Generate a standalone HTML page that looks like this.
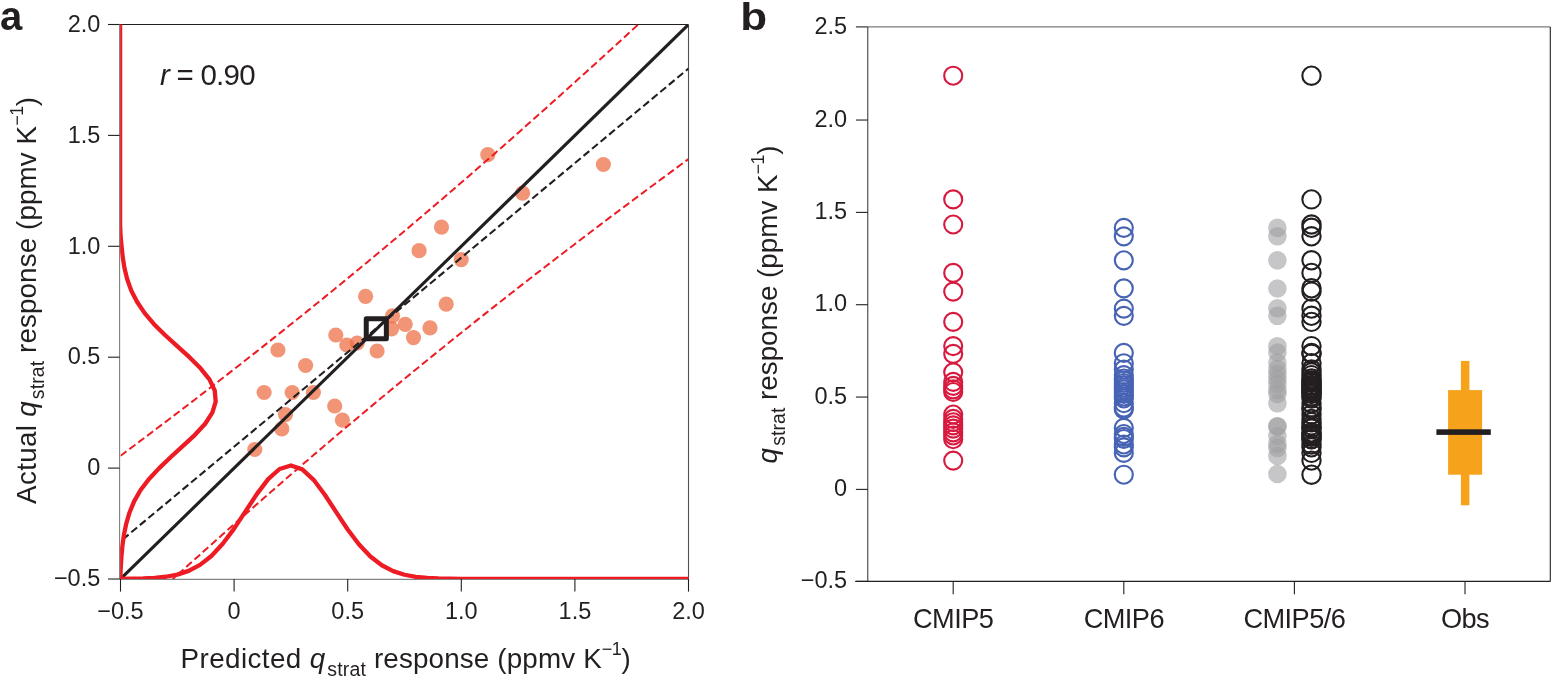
<!DOCTYPE html>
<html><head><meta charset="utf-8"><title>Figure</title>
<style>html,body{margin:0;padding:0;background:#fff;}body{width:1551px;height:677px;overflow:hidden;}</style>
</head><body>
<svg width="1551" height="677" viewBox="0 0 1551 677" style="display:block">
<rect x="0" y="0" width="1551" height="677" fill="#ffffff"/>
<defs><clipPath id="ca"><rect x="120.5" y="24.5" width="568.0" height="554.5"/></clipPath><clipPath id="ck"><rect x="120.1" y="24.5" width="568.4" height="554.4"/></clipPath></defs>
<g fill="none">
<line x1="119.6" y1="24.45" x2="688.5" y2="24.45" stroke="#231f20" stroke-width="1.1"/>
<line x1="688.5" y1="24.45" x2="688.5" y2="579.3" stroke="#505050" stroke-width="1.1"/>
<line x1="119.6" y1="24.45" x2="119.6" y2="579.3" stroke="#7d7d7d" stroke-width="1.1"/>
<line x1="119.6" y1="579.3" x2="688.5" y2="579.3" stroke="#858585" stroke-width="1.2"/>
</g>
<g stroke="#231f20" stroke-width="1.1">
<line x1="120.50" y1="579.0" x2="120.50" y2="591.6"/>
<line x1="108" y1="579.00" x2="119.6" y2="579.00"/>
<line x1="234.10" y1="579.0" x2="234.10" y2="591.6"/>
<line x1="108" y1="468.10" x2="119.6" y2="468.10"/>
<line x1="347.70" y1="579.0" x2="347.70" y2="591.6"/>
<line x1="108" y1="357.20" x2="119.6" y2="357.20"/>
<line x1="461.30" y1="579.0" x2="461.30" y2="591.6"/>
<line x1="108" y1="246.30" x2="119.6" y2="246.30"/>
<line x1="574.90" y1="579.0" x2="574.90" y2="591.6"/>
<line x1="108" y1="135.40" x2="119.6" y2="135.40"/>
<line x1="688.50" y1="579.0" x2="688.50" y2="591.6"/>
<line x1="108" y1="24.50" x2="119.6" y2="24.50"/>
</g>
<g font-family="'Liberation Sans', Arial, Helvetica, sans-serif" font-size="23.5" fill="#231f20">
<text x="120.50" y="618.6" text-anchor="middle">−0.5</text>
<text x="100.3" y="586.20" text-anchor="end">−0.5</text>
<text x="234.10" y="618.6" text-anchor="middle">0</text>
<text x="100.3" y="475.30" text-anchor="end">0</text>
<text x="347.70" y="618.6" text-anchor="middle">0.5</text>
<text x="100.3" y="364.40" text-anchor="end">0.5</text>
<text x="461.30" y="618.6" text-anchor="middle">1.0</text>
<text x="100.3" y="253.50" text-anchor="end">1.0</text>
<text x="574.90" y="618.6" text-anchor="middle">1.5</text>
<text x="100.3" y="142.60" text-anchor="end">1.5</text>
<text x="688.50" y="618.6" text-anchor="middle">2.0</text>
<text x="100.3" y="31.70" text-anchor="end">2.0</text>
</g>
<g fill="rgba(238,112,72,0.75)">
<circle cx="487.8" cy="154.7" r="7.6"/>
<circle cx="603.4" cy="164.5" r="7.6"/>
<circle cx="522.6" cy="193.1" r="7.6"/>
<circle cx="441.5" cy="227.1" r="7.6"/>
<circle cx="419.1" cy="250.7" r="7.6"/>
<circle cx="461.2" cy="259.6" r="7.6"/>
<circle cx="365.6" cy="296.3" r="7.6"/>
<circle cx="446.2" cy="304.2" r="7.6"/>
<circle cx="392.5" cy="315.8" r="7.6"/>
<circle cx="405.2" cy="324.3" r="7.6"/>
<circle cx="391.5" cy="328.8" r="7.6"/>
<circle cx="430" cy="327.9" r="7.6"/>
<circle cx="335.8" cy="335" r="7.6"/>
<circle cx="346.8" cy="345" r="7.6"/>
<circle cx="357.2" cy="343" r="7.6"/>
<circle cx="413.5" cy="337.6" r="7.6"/>
<circle cx="377.1" cy="351" r="7.6"/>
<circle cx="277.9" cy="350" r="7.6"/>
<circle cx="305.6" cy="365.5" r="7.6"/>
<circle cx="264.1" cy="392.5" r="7.6"/>
<circle cx="292.2" cy="392.5" r="7.6"/>
<circle cx="313.4" cy="392.5" r="7.6"/>
<circle cx="334.7" cy="406" r="7.6"/>
<circle cx="285.5" cy="414.6" r="7.6"/>
<circle cx="342.4" cy="420.1" r="7.6"/>
<circle cx="281.8" cy="428.9" r="7.6"/>
<circle cx="254.8" cy="449.5" r="7.6"/>
</g>
<g clip-path="url(#ca)" fill="none">
<polyline points="120.50,455.82 123.34,453.70 126.18,451.57 129.02,449.45 131.86,447.32 134.70,445.19 137.54,443.06 140.38,440.92 143.22,438.78 146.06,436.64 148.90,434.50 151.74,432.36 154.58,430.21 157.42,428.07 160.26,425.92 163.10,423.76 165.94,421.61 168.78,419.45 171.62,417.29 174.46,415.13 177.30,412.97 180.14,410.80 182.98,408.63 185.82,406.46 188.66,404.29 191.50,402.11 194.34,399.94 197.18,397.75 200.02,395.57 202.86,393.39 205.70,391.20 208.54,389.01 211.38,386.81 214.22,384.62 217.06,382.42 219.90,380.22 222.74,378.02 225.58,375.81 228.42,373.60 231.26,371.39 234.10,369.18 236.94,366.96 239.78,364.74 242.62,362.52 245.46,360.30 248.30,358.07 251.14,355.84 253.98,353.61 256.82,351.37 259.66,349.13 262.50,346.89 265.34,344.65 268.18,342.40 271.02,340.15 273.86,337.90 276.70,335.64 279.54,333.38 282.38,331.12 285.22,328.86 288.06,326.59 290.90,324.32 293.74,322.05 296.58,319.77 299.42,317.49 302.26,315.21 305.10,312.93 307.94,310.64 310.78,308.35 313.62,306.06 316.46,303.76 319.30,301.46 322.14,299.16 324.98,296.85 327.82,294.54 330.66,292.23 333.50,289.92 336.34,287.60 339.18,285.28 342.02,282.95 344.86,280.63 347.70,278.30 350.54,275.96 353.38,273.63 356.22,271.29 359.06,268.94 361.90,266.60 364.74,264.25 367.58,261.90 370.42,259.54 373.26,257.18 376.10,254.82 378.94,252.46 381.78,250.09 384.62,247.72 387.46,245.35 390.30,242.97 393.14,240.59 395.98,238.21 398.82,235.82 401.66,233.43 404.50,231.04 407.34,228.64 410.18,226.24 413.02,223.84 415.86,221.44 418.70,219.03 421.54,216.62 424.38,214.21 427.22,211.79 430.06,209.37 432.90,206.95 435.74,204.52 438.58,202.09 441.42,199.66 444.26,197.22 447.10,194.79 449.94,192.34 452.78,189.90 455.62,187.45 458.46,185.00 461.30,182.55 464.14,180.09 466.98,177.64 469.82,175.17 472.66,172.71 475.50,170.24 478.34,167.77 481.18,165.30 484.02,162.82 486.86,160.34 489.70,157.86 492.54,155.38 495.38,152.89 498.22,150.40 501.06,147.91 503.90,145.41 506.74,142.91 509.58,140.41 512.42,137.91 515.26,135.40 518.10,132.89 520.94,130.38 523.78,127.86 526.62,125.34 529.46,122.82 532.30,120.30 535.14,117.78 537.98,115.25 540.82,112.72 543.66,110.18 546.50,107.65 549.34,105.11 552.18,102.57 555.02,100.03 557.86,97.48 560.70,94.93 563.54,92.38 566.38,89.83 569.22,87.28 572.06,84.72 574.90,82.16 577.74,79.60 580.58,77.03 583.42,74.46 586.26,71.89 589.10,69.32 591.94,66.75 594.78,64.17 597.62,61.59 600.46,59.01 603.30,56.43 606.14,53.85 608.98,51.26 611.82,48.67 614.66,46.08 617.50,43.48 620.34,40.89 623.18,38.29 626.02,35.69 628.86,33.09 631.70,30.49 634.54,27.88 637.38,25.27 640.22,22.66 643.06,20.05 645.90,17.44 648.74,14.82 651.58,12.20 654.42,9.59 657.26,6.96 660.10,4.34 662.94,1.72 665.78,-0.91 668.62,-3.54 671.46,-6.17 674.30,-8.80 677.14,-11.44 679.98,-14.07 682.82,-16.71 685.66,-19.35 688.50,-21.99" stroke="#ed1c24" stroke-width="2" stroke-dasharray="7.5 3.6"/>
<polyline points="120.50,626.77 123.34,624.16 126.18,621.56 129.02,618.96 131.86,616.36 134.70,613.76 137.54,611.17 140.38,608.57 143.22,605.98 146.06,603.39 148.90,600.81 151.74,598.22 154.58,595.64 157.42,593.06 160.26,590.48 163.10,587.91 165.94,585.34 168.78,582.77 171.62,580.20 174.46,577.63 177.30,575.07 180.14,572.51 182.98,569.95 185.82,567.39 188.66,564.84 191.50,562.28 194.34,559.73 197.18,557.19 200.02,554.64 202.86,552.10 205.70,549.56 208.54,547.02 211.38,544.49 214.22,541.96 217.06,539.43 219.90,536.90 222.74,534.37 225.58,531.85 228.42,529.33 231.26,526.82 234.10,524.30 236.94,521.79 239.78,519.28 242.62,516.78 245.46,514.27 248.30,511.77 251.14,509.28 253.98,506.78 256.82,504.29 259.66,501.80 262.50,499.31 265.34,496.83 268.18,494.35 271.02,491.87 273.86,489.40 276.70,486.92 279.54,484.45 282.38,481.99 285.22,479.52 288.06,477.06 290.90,474.61 293.74,472.15 296.58,469.70 299.42,467.25 302.26,464.80 305.10,462.36 307.94,459.92 310.78,457.48 313.62,455.05 316.46,452.62 319.30,450.19 322.14,447.77 324.98,445.34 327.82,442.93 330.66,440.51 333.50,438.10 336.34,435.69 339.18,433.28 342.02,430.88 344.86,428.48 347.70,426.08 350.54,423.68 353.38,421.29 356.22,418.91 359.06,416.52 361.90,414.14 364.74,411.76 367.58,409.38 370.42,407.01 373.26,404.64 376.10,402.28 378.94,399.91 381.78,397.55 384.62,395.19 387.46,392.84 390.30,390.49 393.14,388.14 395.98,385.80 398.82,383.46 401.66,381.12 404.50,378.78 407.34,376.45 410.18,374.12 413.02,371.79 415.86,369.47 418.70,367.15 421.54,364.84 424.38,362.52 427.22,360.21 430.06,357.90 432.90,355.60 435.74,353.30 438.58,351.00 441.42,348.70 444.26,346.41 447.10,344.12 449.94,341.83 452.78,339.55 455.62,337.27 458.46,334.99 461.30,332.72 464.14,330.45 466.98,328.18 469.82,325.91 472.66,323.65 475.50,321.39 478.34,319.13 481.18,316.88 484.02,314.62 486.86,312.38 489.70,310.13 492.54,307.89 495.38,305.65 498.22,303.41 501.06,301.18 503.90,298.94 506.74,296.71 509.58,294.49 512.42,292.26 515.26,290.04 518.10,287.83 520.94,285.61 523.78,283.40 526.62,281.19 529.46,278.98 532.30,276.77 535.14,274.57 537.98,272.37 540.82,270.18 543.66,267.98 546.50,265.79 549.34,263.60 552.18,261.41 555.02,259.23 557.86,257.05 560.70,254.87 563.54,252.69 566.38,250.51 569.22,248.34 572.06,246.17 574.90,244.00 577.74,241.84 580.58,239.68 583.42,237.51 586.26,235.36 589.10,233.20 591.94,231.05 594.78,228.90 597.62,226.75 600.46,224.60 603.30,222.45 606.14,220.31 608.98,218.17 611.82,216.03 614.66,213.90 617.50,211.76 620.34,209.63 623.18,207.50 626.02,205.37 628.86,203.25 631.70,201.12 634.54,199.00 637.38,196.88 640.22,194.76 643.06,192.65 645.90,190.53 648.74,188.42 651.58,186.31 654.42,184.20 657.26,182.10 660.10,179.99 662.94,177.89 665.78,175.79 668.62,173.69 671.46,171.59 674.30,169.49 677.14,167.40 679.98,165.31 682.82,163.22 685.66,161.13 688.50,159.04" stroke="#ed1c24" stroke-width="2" stroke-dasharray="7.5 3.6"/>
<line x1="120.50" y1="541.29" x2="688.50" y2="68.53" stroke="#231f20" stroke-width="2.1" stroke-dasharray="7.5 3.6" stroke-dashoffset="-3"/>
<line x1="120.50" y1="579.00" x2="688.50" y2="24.50" stroke="#231f20" stroke-width="3.1"/>
</g>
<g fill="none" stroke="#ed1c24" stroke-width="4.3" stroke-linejoin="round" clip-path="url(#ck)">
<polyline points="118.10,578.90 120.50,578.83 131.86,578.72 143.22,578.45 154.58,577.88 165.94,576.74 177.30,574.59 188.66,570.87 200.02,564.88 211.38,555.98 222.74,543.82 234.10,528.62 245.46,511.42 256.82,494.11 268.18,479.13 279.54,468.98 290.90,465.50 302.26,469.36 313.62,479.82 324.98,494.99 336.34,512.35 347.70,529.49 359.06,544.54 370.42,556.53 381.78,565.26 393.14,571.12 404.50,574.74 415.86,576.82 427.22,577.92 438.58,578.47 449.94,578.72 461.30,578.83 472.66,578.88 484.02,578.89 495.38,578.90 506.74,578.90 518.10,578.90 529.46,578.90 540.82,578.90 552.18,578.90 563.54,578.90 574.90,578.90 586.26,578.90 597.62,578.90 608.98,578.90 620.34,578.90 631.70,578.90 643.06,578.90 654.42,578.90 665.78,578.90 677.14,578.90 688.50,578.90 690.50,578.90"/>
<polyline points="120.10,582.00 120.20,579.00 120.74,567.91 121.41,556.82 122.42,545.73 123.97,534.64 126.27,523.55 129.54,512.46 134.14,501.37 140.44,490.28 148.83,479.19 159.23,468.10 170.82,457.01 183.01,445.92 194.97,434.83 205.18,423.74 212.33,412.65 215.69,401.56 214.73,390.47 209.43,379.38 200.55,368.29 189.43,357.20 177.20,346.11 164.96,335.02 153.78,323.93 144.47,312.84 137.03,301.75 131.35,290.66 127.29,279.57 124.56,268.48 122.77,257.39 121.54,246.30 120.52,235.21 120.10,224.12 120.10,213.03 120.10,201.94 120.10,190.85 120.10,179.76 120.10,168.67 120.10,157.58 120.10,146.49 120.10,135.40 120.10,124.31 120.10,113.22 120.10,102.13 120.10,91.04 120.10,79.95 120.10,68.86 120.10,57.77 120.10,46.68 120.10,35.59 120.10,24.50 120.10,21.50"/>
</g>
<rect x="366.25" y="318.75" width="20.1" height="20.1" fill="none" stroke="#231f20" stroke-width="5" stroke-linejoin="round"/>
<text x="160.0" y="85.4" font-family="'Liberation Sans', Arial, Helvetica, sans-serif" font-size="29.5" letter-spacing="-0.75" fill="#231f20"><tspan font-style="italic">r</tspan> = 0.90</text>
<text x="180.6" y="667.8" font-family="'Liberation Sans', Arial, Helvetica, sans-serif" font-size="27.8" fill="#231f20"><tspan letter-spacing="0.41">Predicted </tspan><tspan font-style="italic">q</tspan><tspan font-size="19.5" dx="2.0" dy="8" letter-spacing="0.15">strat</tspan><tspan dy="-8" letter-spacing="0.15"> response (ppmv K</tspan><tspan font-size="18" dy="-13" letter-spacing="-0.5">−1</tspan><tspan dy="13">)</tspan></text>
<text transform="translate(36.2,503.9) rotate(-90)" x="0" y="0" font-family="'Liberation Sans', Arial, Helvetica, sans-serif" font-size="27.8" fill="#231f20"><tspan letter-spacing="0.32">Actual </tspan><tspan font-style="italic">q</tspan><tspan font-size="19.5" dx="2.0" dy="8" letter-spacing="0.1">strat</tspan><tspan dy="-8" letter-spacing="0.1"> response (ppmv K</tspan><tspan font-size="18" dy="-13" letter-spacing="-0.5">−1</tspan><tspan dy="13">)</tspan></text>
<text x="0" y="29.5" font-family="'Liberation Sans', Arial, Helvetica, sans-serif" font-size="40" font-weight="bold" fill="#231f20">a</text>
<text transform="translate(740.2,29.6) scale(1.1,0.98)" x="0" y="0" font-family="'Liberation Sans', Arial, Helvetica, sans-serif" font-size="40" font-weight="bold" fill="#231f20">b</text>
<g fill="none">
<line x1="867.75" y1="26.9" x2="1550.3" y2="26.9" stroke="#7a7a7a" stroke-width="1.4"/>
<line x1="1550.3" y1="26.9" x2="1550.3" y2="581.4" stroke="#231f20" stroke-width="1.1"/>
<line x1="867.75" y1="26.9" x2="867.75" y2="581.4" stroke="#505050" stroke-width="1.2"/>
<line x1="855.2" y1="581.4" x2="1550.3" y2="581.4" stroke="#231f20" stroke-width="1.2"/>
</g>
<g stroke="#231f20" stroke-width="1.1">
<line x1="855.9" y1="26.90" x2="867.75" y2="26.90"/>
<line x1="855.9" y1="120.04" x2="867.75" y2="120.04"/>
<line x1="855.9" y1="212.38" x2="867.75" y2="212.38"/>
<line x1="855.9" y1="304.72" x2="867.75" y2="304.72"/>
<line x1="855.9" y1="397.06" x2="867.75" y2="397.06"/>
<line x1="855.9" y1="489.40" x2="867.75" y2="489.40"/>
<line x1="855.9" y1="581.40" x2="867.75" y2="581.40"/>
<line x1="953.2" y1="581.4" x2="953.2" y2="594.2"/>
<line x1="1123.8" y1="581.4" x2="1123.8" y2="594.2"/>
<line x1="1294.4" y1="581.4" x2="1294.4" y2="594.2"/>
<line x1="1465.0" y1="581.4" x2="1465.0" y2="594.2"/>
</g>
<g font-family="'Liberation Sans', Arial, Helvetica, sans-serif" font-size="23.5" fill="#231f20" text-anchor="end">
<text x="847.2" y="34.20">2.5</text>
<text x="847.2" y="126.54">2.0</text>
<text x="847.2" y="218.88">1.5</text>
<text x="847.2" y="311.22">1.0</text>
<text x="847.2" y="403.56">0.5</text>
<text x="847.2" y="495.90">0</text>
<text x="847.2" y="588.24">−0.5</text>
</g>
<g font-family="'Liberation Sans', Arial, Helvetica, sans-serif" font-size="27.2" letter-spacing="-0.55" fill="#231f20" text-anchor="middle">
<text x="953.2" y="628.2">CMIP5</text>
<text x="1123.8" y="628.2">CMIP6</text>
<text x="1294.4" y="628.2">CMIP5/6</text>
<text x="1465.0" y="628.2">Obs</text>
</g>
<text transform="translate(776.8,463.6) rotate(-90)" x="0" y="0" font-family="'Liberation Sans', Arial, Helvetica, sans-serif" font-size="27.8" fill="#231f20"><tspan font-style="italic">q</tspan><tspan font-size="19.5" dx="2.5" dy="8" letter-spacing="0.0">strat</tspan><tspan dy="-8" letter-spacing="0.0"> response (ppmv K</tspan><tspan font-size="18" dy="-13" letter-spacing="-0.5">−1</tspan><tspan dy="13">)</tspan></text>
<g fill="none" stroke-width="2.15">
<circle cx="953.2" cy="75.7" r="9.0" stroke="#d7193f"/>
<circle cx="953.2" cy="199.4" r="9.0" stroke="#d7193f"/>
<circle cx="953.2" cy="224.5" r="9.0" stroke="#d7193f"/>
<circle cx="953.2" cy="272.9" r="9.0" stroke="#d7193f"/>
<circle cx="953.2" cy="291.6" r="9.0" stroke="#d7193f"/>
<circle cx="953.2" cy="321.9" r="9.0" stroke="#d7193f"/>
<circle cx="953.2" cy="346.1" r="9.0" stroke="#d7193f"/>
<circle cx="953.2" cy="353.8" r="9.0" stroke="#d7193f"/>
<circle cx="953.2" cy="372.3" r="9.0" stroke="#d7193f"/>
<circle cx="953.2" cy="381.9" r="9.0" stroke="#d7193f"/>
<circle cx="953.2" cy="385.9" r="9.0" stroke="#d7193f"/>
<circle cx="953.2" cy="389.3" r="9.0" stroke="#d7193f"/>
<circle cx="953.2" cy="392.0" r="9.0" stroke="#d7193f"/>
<circle cx="953.2" cy="414.5" r="9.0" stroke="#d7193f"/>
<circle cx="953.2" cy="418.9" r="9.0" stroke="#d7193f"/>
<circle cx="953.2" cy="422.2" r="9.0" stroke="#d7193f"/>
<circle cx="953.2" cy="425.4" r="9.0" stroke="#d7193f"/>
<circle cx="953.2" cy="428.6" r="9.0" stroke="#d7193f"/>
<circle cx="953.2" cy="432.3" r="9.0" stroke="#d7193f"/>
<circle cx="953.2" cy="435.5" r="9.0" stroke="#d7193f"/>
<circle cx="953.2" cy="439.2" r="9.0" stroke="#d7193f"/>
<circle cx="953.2" cy="460.6" r="9.0" stroke="#d7193f"/>
<circle cx="1123.8" cy="227.8" r="9.0" stroke="#4763b4"/>
<circle cx="1123.8" cy="236.3" r="9.0" stroke="#4763b4"/>
<circle cx="1123.8" cy="260.3" r="9.0" stroke="#4763b4"/>
<circle cx="1123.8" cy="288.3" r="9.0" stroke="#4763b4"/>
<circle cx="1123.8" cy="308.6" r="9.0" stroke="#4763b4"/>
<circle cx="1123.8" cy="315.8" r="9.0" stroke="#4763b4"/>
<circle cx="1123.8" cy="352.9" r="9.0" stroke="#4763b4"/>
<circle cx="1123.8" cy="363.2" r="9.0" stroke="#4763b4"/>
<circle cx="1123.8" cy="369.5" r="9.0" stroke="#4763b4"/>
<circle cx="1123.8" cy="375.1" r="9.0" stroke="#4763b4"/>
<circle cx="1123.8" cy="378.5" r="9.0" stroke="#4763b4"/>
<circle cx="1123.8" cy="380.5" r="9.0" stroke="#4763b4"/>
<circle cx="1123.8" cy="383.0" r="9.0" stroke="#4763b4"/>
<circle cx="1123.8" cy="385.0" r="9.0" stroke="#4763b4"/>
<circle cx="1123.8" cy="387.5" r="9.0" stroke="#4763b4"/>
<circle cx="1123.8" cy="389.5" r="9.0" stroke="#4763b4"/>
<circle cx="1123.8" cy="392.0" r="9.0" stroke="#4763b4"/>
<circle cx="1123.8" cy="394.0" r="9.0" stroke="#4763b4"/>
<circle cx="1123.8" cy="396.5" r="9.0" stroke="#4763b4"/>
<circle cx="1123.8" cy="398.5" r="9.0" stroke="#4763b4"/>
<circle cx="1123.8" cy="403.2" r="9.0" stroke="#4763b4"/>
<circle cx="1123.8" cy="407.6" r="9.0" stroke="#4763b4"/>
<circle cx="1123.8" cy="409.3" r="9.0" stroke="#4763b4"/>
<circle cx="1123.8" cy="427.9" r="9.0" stroke="#4763b4"/>
<circle cx="1123.8" cy="434.0" r="9.0" stroke="#4763b4"/>
<circle cx="1123.8" cy="436.8" r="9.0" stroke="#4763b4"/>
<circle cx="1123.8" cy="439.0" r="9.0" stroke="#4763b4"/>
<circle cx="1123.8" cy="444.5" r="9.0" stroke="#4763b4"/>
<circle cx="1123.8" cy="447.3" r="9.0" stroke="#4763b4"/>
<circle cx="1123.8" cy="452.9" r="9.0" stroke="#4763b4"/>
<circle cx="1123.8" cy="474.7" r="9.0" stroke="#4763b4"/>
</g>
<g fill="rgba(160,160,164,0.6)">
<circle cx="1277.4" cy="227.9" r="9.3"/>
<circle cx="1277.4" cy="236.3" r="9.3"/>
<circle cx="1277.4" cy="260.4" r="9.3"/>
<circle cx="1277.4" cy="288.5" r="9.3"/>
<circle cx="1277.4" cy="308.3" r="9.3"/>
<circle cx="1277.4" cy="315.8" r="9.3"/>
<circle cx="1277.4" cy="346.2" r="9.3"/>
<circle cx="1277.4" cy="352.5" r="9.3"/>
<circle cx="1277.4" cy="362.5" r="9.3"/>
<circle cx="1277.4" cy="369.0" r="9.3"/>
<circle cx="1277.4" cy="374.0" r="9.3"/>
<circle cx="1277.4" cy="379.0" r="9.3"/>
<circle cx="1277.4" cy="384.0" r="9.3"/>
<circle cx="1277.4" cy="390.0" r="9.3"/>
<circle cx="1277.4" cy="394.0" r="9.3"/>
<circle cx="1277.4" cy="403.3" r="9.3"/>
<circle cx="1277.4" cy="426.2" r="9.3"/>
<circle cx="1277.4" cy="426.6" r="9.3"/>
<circle cx="1277.4" cy="436.0" r="9.3"/>
<circle cx="1277.4" cy="444.0" r="9.3"/>
<circle cx="1277.4" cy="448.0" r="9.3"/>
<circle cx="1277.4" cy="456.0" r="9.3"/>
<circle cx="1277.4" cy="474.0" r="9.3"/>
</g>
<g fill="none" stroke-width="2.1" stroke="#231f20">
<circle cx="1311.5" cy="75.7" r="9.15"/>
<circle cx="1311.5" cy="199.4" r="9.15"/>
<circle cx="1311.5" cy="224.5" r="9.15"/>
<circle cx="1311.5" cy="227.8" r="9.15"/>
<circle cx="1311.5" cy="236.3" r="9.15"/>
<circle cx="1311.5" cy="260.3" r="9.15"/>
<circle cx="1311.5" cy="272.9" r="9.15"/>
<circle cx="1311.5" cy="288.3" r="9.15"/>
<circle cx="1311.5" cy="291.6" r="9.15"/>
<circle cx="1311.5" cy="308.6" r="9.15"/>
<circle cx="1311.5" cy="315.8" r="9.15"/>
<circle cx="1311.5" cy="321.9" r="9.15"/>
<circle cx="1311.5" cy="346.1" r="9.15"/>
<circle cx="1311.5" cy="352.9" r="9.15"/>
<circle cx="1311.5" cy="353.8" r="9.15"/>
<circle cx="1311.5" cy="363.2" r="9.15"/>
<circle cx="1311.5" cy="369.5" r="9.15"/>
<circle cx="1311.5" cy="372.3" r="9.15"/>
<circle cx="1311.5" cy="375.1" r="9.15"/>
<circle cx="1311.5" cy="378.5" r="9.15"/>
<circle cx="1311.5" cy="380.5" r="9.15"/>
<circle cx="1311.5" cy="381.9" r="9.15"/>
<circle cx="1311.5" cy="383.0" r="9.15"/>
<circle cx="1311.5" cy="385.0" r="9.15"/>
<circle cx="1311.5" cy="385.9" r="9.15"/>
<circle cx="1311.5" cy="387.5" r="9.15"/>
<circle cx="1311.5" cy="389.3" r="9.15"/>
<circle cx="1311.5" cy="389.5" r="9.15"/>
<circle cx="1311.5" cy="392.0" r="9.15"/>
<circle cx="1311.5" cy="392.0" r="9.15"/>
<circle cx="1311.5" cy="394.0" r="9.15"/>
<circle cx="1311.5" cy="396.5" r="9.15"/>
<circle cx="1311.5" cy="398.5" r="9.15"/>
<circle cx="1311.5" cy="403.2" r="9.15"/>
<circle cx="1311.5" cy="407.6" r="9.15"/>
<circle cx="1311.5" cy="409.3" r="9.15"/>
<circle cx="1311.5" cy="414.5" r="9.15"/>
<circle cx="1311.5" cy="418.9" r="9.15"/>
<circle cx="1311.5" cy="422.2" r="9.15"/>
<circle cx="1311.5" cy="425.4" r="9.15"/>
<circle cx="1311.5" cy="427.9" r="9.15"/>
<circle cx="1311.5" cy="428.6" r="9.15"/>
<circle cx="1311.5" cy="432.3" r="9.15"/>
<circle cx="1311.5" cy="434.0" r="9.15"/>
<circle cx="1311.5" cy="435.5" r="9.15"/>
<circle cx="1311.5" cy="436.8" r="9.15"/>
<circle cx="1311.5" cy="439.0" r="9.15"/>
<circle cx="1311.5" cy="439.2" r="9.15"/>
<circle cx="1311.5" cy="444.5" r="9.15"/>
<circle cx="1311.5" cy="447.3" r="9.15"/>
<circle cx="1311.5" cy="452.9" r="9.15"/>
<circle cx="1311.5" cy="460.6" r="9.15"/>
<circle cx="1311.5" cy="474.7" r="9.15"/>
</g>
<rect x="1460.9" y="360.9" width="8.5" height="144.4" fill="#f7a21b"/>
<rect x="1448.1" y="390.1" width="34" height="84.6" fill="#f7a21b"/>
<rect x="1436.4" y="429.3" width="54.4" height="5.6" fill="#231f20"/>
</svg>
</body></html>
